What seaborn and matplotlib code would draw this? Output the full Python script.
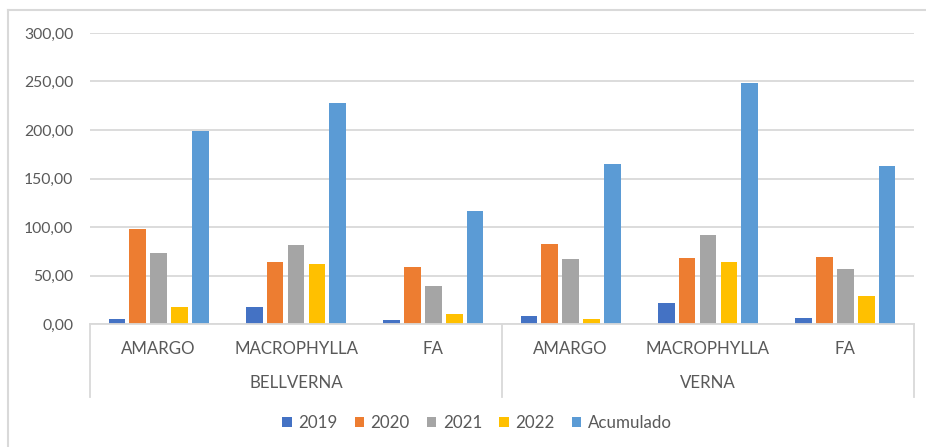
import matplotlib
matplotlib.use("Agg")
import matplotlib.pyplot as plt
from matplotlib.lines import Line2D
from matplotlib.patches import Patch
from matplotlib.ticker import FuncFormatter
import seaborn as sns
import pandas as pd

# --- data -------------------------------------------------------------
groups = ["BELLVERNA", "VERNA"]
varieties = ["AMARGO", "MACROPHYLLA", "FA"]
series = ["2019", "2020", "2021", "2022", "Acumulado"]

v2019 = [5.5, 17.9, 4.5, 7.9, 22.0, 6.5]
v2020 = [97.9, 64.3, 59.1, 82.8, 68.4, 69.4]
v2021 = [73.5, 81.4, 39.2, 66.7, 91.8, 56.4]
v2022 = [17.9, 62.2, 10.7, 5.5, 64.3, 29.2]
acumulado = [198.6, 227.8, 116.2, 165.0, 248.1, 163.2]

colors = ["#4472C4", "#ED7D31", "#A5A5A5", "#FFC000", "#5B9BD5"]

yticks = [0, 50, 100, 150, 200, 250, 300]

# --- long table for seaborn --------------------------------------------
keys = [f"{g}|{v}" for g in groups for v in varieties]
rows = []
for name, vals in zip(series, [v2019, v2020, v2021, v2022, acumulado]):
    for k, val in zip(keys, vals):
        rows.append({"key": k, "serie": name, "valor": val})
df = pd.DataFrame(rows)

# --- figure -------------------------------------------------------------
W, H = 926, 447
fig = plt.figure(figsize=(W / 100, H / 100), dpi=100)
ax = fig.add_axes([90 / W, (H - 324) / H, 824 / W, 291 / H])

font = ["Lato", "DejaVu Sans"]
txt = "#595959"
grid = "#D9D9D9"

sns.barplot(data=df, x="key", y="valor", hue="serie", order=keys,
            hue_order=series, palette=colors, width=0.76, gap=0.2,
            saturation=1, ax=ax, legend=False, errorbar=None)

ax.set_ylim(0, 300)
ax.set_xlim(-0.5, len(keys) - 0.5)
ax.set_yticks(yticks)
ax.yaxis.set_major_formatter(FuncFormatter(lambda v, _: f"{v:.2f}".replace(".", ",")))
ax.grid(axis="y", color=grid, linewidth=1.3)
ax.set_axisbelow(True)
for s in ["top", "right", "left"]:
    ax.spines[s].set_visible(False)
ax.spines["bottom"].set_color(grid)
ax.spines["bottom"].set_linewidth(1.3)
ax.tick_params(axis="y", length=0, pad=12, labelsize=11.3, labelcolor=txt)
ax.tick_params(axis="x", length=0, labelbottom=False)
for lab in ax.get_yticklabels():
    lab.set_family(font)
ax.set_xlabel("")
ax.set_ylabel("")

# two-level category axis
trans = ax.get_xaxis_transform()
for i, k in enumerate(keys):
    ax.text(i, -25 / 291, k.split("|")[1], transform=trans, ha="center",
            va="center", fontsize=12.2, color=txt, family=font)
for gi, g in enumerate(groups):
    ax.text(gi * 3 + 1, -59 / 291, g, transform=trans, ha="center",
            va="center", fontsize=12.2, color=txt, family=font)
for xs in [-0.5, 2.5, 5.5]:
    ax.add_line(Line2D([xs, xs], [0, -73 / 291], transform=trans,
                       color=grid, linewidth=1.3, clip_on=False))

# legend
handles = [Patch(facecolor=c, label=s) for c, s in zip(colors, series)]
leg = fig.legend(handles=handles, loc="center", ncol=5,
                 bbox_to_anchor=(477 / W, 1 - 423 / H), frameon=False,
                 handlelength=0.55, handleheight=0.55, handletextpad=0.4,
                 columnspacing=1.0, prop={"family": font, "size": 12.2})
for t in leg.get_texts():
    t.set_color(txt)

# chart frame
fig.add_artist(Line2D([8 / W, 8 / W], [0, 1 - 10 / H], transform=fig.transFigure,
                      color=grid, linewidth=1.5))
fig.add_artist(Line2D([8 / W, 1], [1 - 10 / H, 1 - 10 / H], transform=fig.transFigure,
                      color=grid, linewidth=1.5))

fig.savefig("out.png", dpi=100)
